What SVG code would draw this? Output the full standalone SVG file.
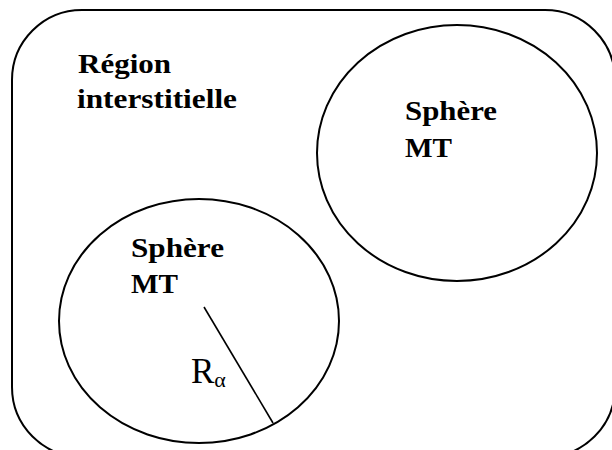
<svg xmlns="http://www.w3.org/2000/svg" width="612" height="450" viewBox="0 0 612 450">
<style>
.shape{fill:none;stroke:#000;stroke-width:2}
.lbl{font-family:"Liberation Serif","Times New Roman",serif;font-weight:bold;font-size:28px;fill:#000}
.r{font-family:"Liberation Serif","Times New Roman",serif;font-size:35px;fill:#000}
</style>
<rect width="612" height="450" fill="#fff"/>
<g id="region">
<rect class="shape" x="12" y="10" width="603" height="447" rx="70" ry="70"/>
<text class="lbl" x="78" y="73" textLength="93" lengthAdjust="spacingAndGlyphs">Région</text>
<text class="lbl" x="77" y="108" textLength="160" lengthAdjust="spacingAndGlyphs">interstitielle</text>
</g>
<g id="sphere-right">
<ellipse class="shape" cx="457" cy="153" rx="140" ry="128"/>
<text class="lbl" x="405" y="120" textLength="92" lengthAdjust="spacingAndGlyphs">Sphère</text>
<text class="lbl" x="405" y="157" textLength="47" lengthAdjust="spacingAndGlyphs">MT</text>
</g>
<g id="sphere-left">
<ellipse class="shape" cx="199" cy="321" rx="140" ry="122"/>
<text class="lbl" x="131" y="257" textLength="93" lengthAdjust="spacingAndGlyphs">Sphère</text>
<text class="lbl" x="131" y="293" textLength="47" lengthAdjust="spacingAndGlyphs">MT</text>
</g>
<g id="connectors">
<line x1="204" y1="307" x2="273" y2="423" stroke="#000" stroke-width="1.6"/>
</g>
<text class="r" x="191" y="383">R<tspan font-size="22" dy="4">α</tspan></text>
</svg>
